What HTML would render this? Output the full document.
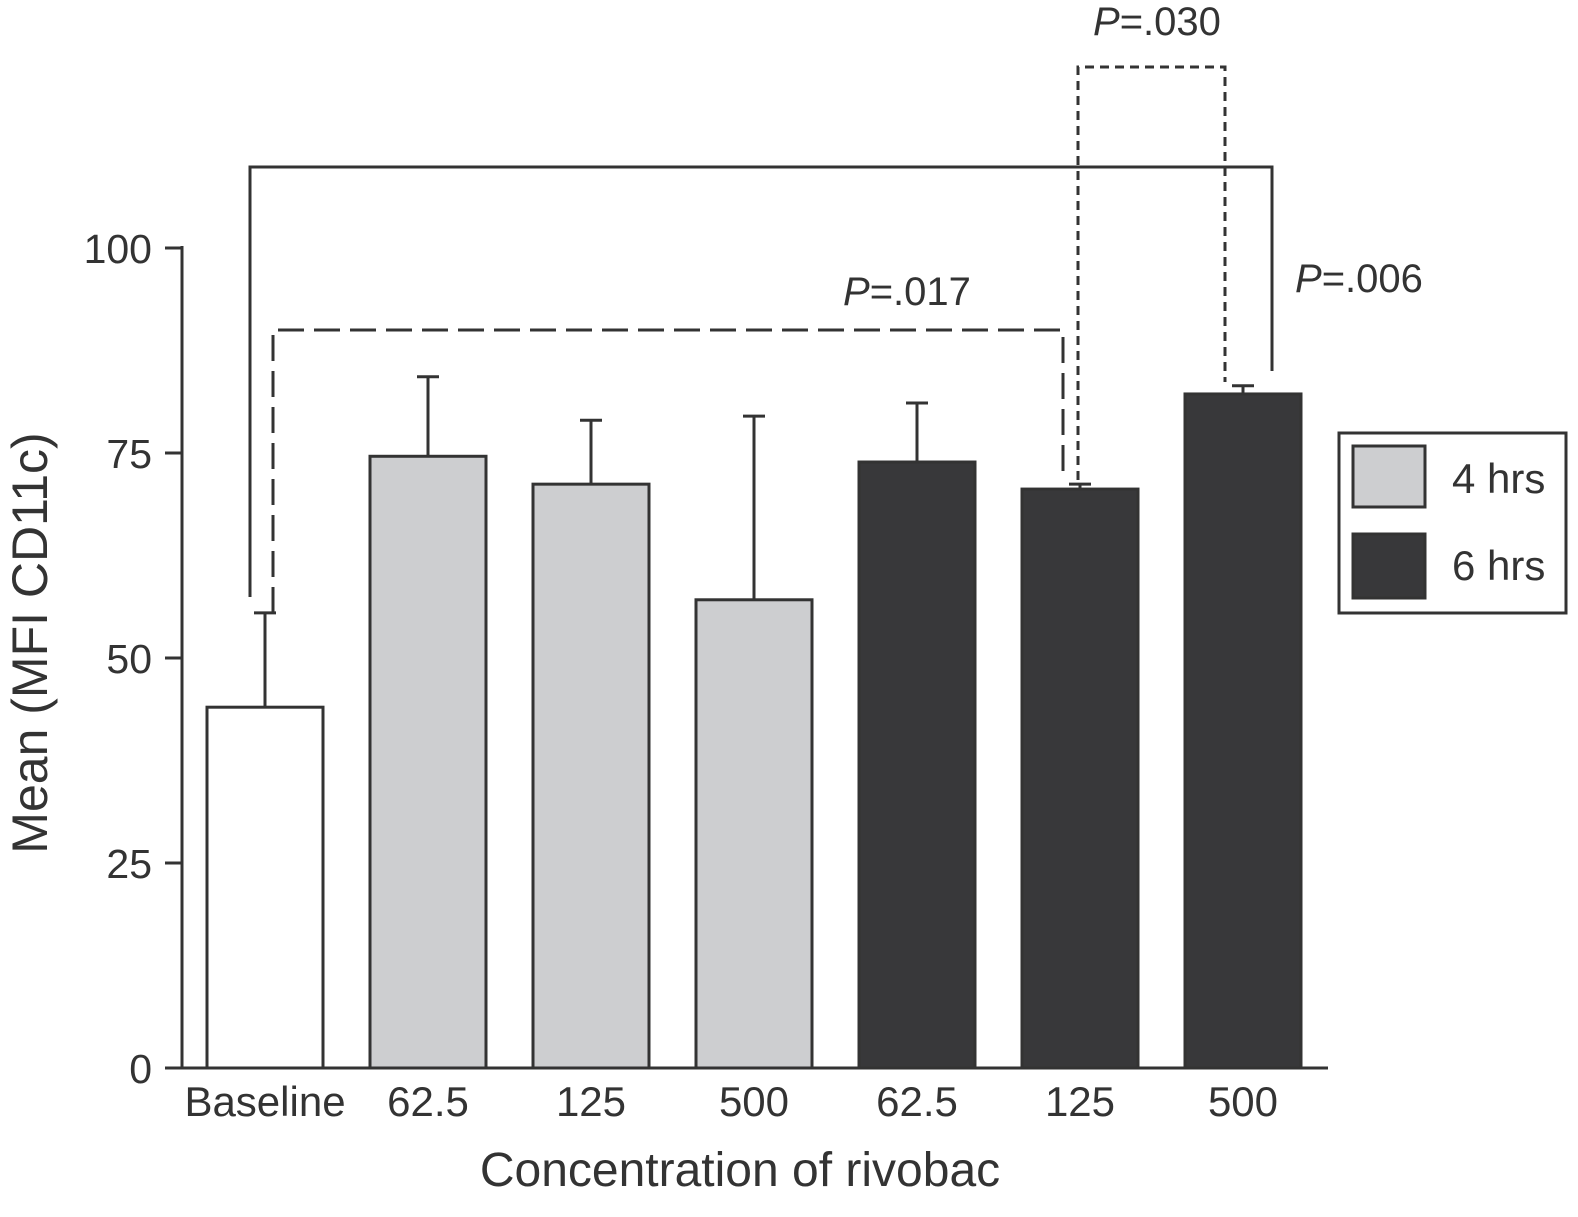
<!DOCTYPE html>
<html><head><meta charset="utf-8"><style>
html,body{margin:0;padding:0;background:#fff;}
svg{display:block;font-family:"Liberation Sans",Arial,sans-serif;}
</style></head><body>
<svg id="chart" width="1578" height="1217" viewBox="0 0 1578 1217" xmlns="http://www.w3.org/2000/svg">
<g id="axes"></g>
<g id="bars"></g>
<g id="brackets"></g>
<text x="740" y="1186" font-size="48" text-anchor="middle" fill="#333">Concentration of rivobac</text>
<text transform="translate(47,643) rotate(-90)" font-size="50" text-anchor="middle" fill="#333">Mean (MFI CD11c)</text>
<g>
<rect x="1339" y="433" width="227" height="180" fill="#fff" stroke="#333" stroke-width="3"/>
<rect x="1353" y="446" width="72" height="61" fill="#cdced0" stroke="#333" stroke-width="3"/>
<text x="1452" y="493" font-size="42" fill="#333">4 hrs</text>
<rect x="1353" y="534" width="72" height="64" fill="#38383a" stroke="#333" stroke-width="3"/>
<text x="1452" y="580" font-size="42" fill="#333">6 hrs</text>
</g>
</svg>
<script>
const categories = ["Baseline","62.5","125","500","62.5","125","500"];
const groups = ["baseline","4h","4h","4h","6h","6h","6h"];
const means = [44.0, 74.6, 71.2, 57.1, 73.9, 70.6, 82.2];
const errTops = [55.5, 84.3, 79.0, 79.5, 81.1, 71.2, 83.2];
const yTicks = [0, 25, 50, 75, 100];

const NS = "http://www.w3.org/2000/svg";
const y0 = 1068, pxPer = 8.2;
const yS = v => y0 - v * pxPer;
const xC = i => 265 + i * 163;
const barW = 116;
const fills = {baseline:"#ffffff","4h":"#cdced0","6h":"#38383a"};
function mk(tag, attrs, parent){const e=document.createElementNS(NS,tag);for(const k in attrs)e.setAttribute(k,attrs[k]);parent.appendChild(e);return e;}

const axes = document.getElementById("axes");
let l = mk("line",{x1:182,y1:246,x2:182,y2:1069,stroke:"#333","stroke-width":3},axes);


l = mk("line",{x1:181,y1:1068,x2:1328,y2:1068,stroke:"#333","stroke-width":3},axes);


yTicks.forEach(t=>{
  const tk = mk("line",{x1:165,y1:yS(t),x2:182,y2:yS(t),stroke:"#333","stroke-width":3},axes);
  
  
  const tx = mk("text",{x:152,y:yS(t)+15,"font-size":41,"text-anchor":"end",fill:"#333"},axes);
  tx.textContent = t;
  
  
});

const bars = document.getElementById("bars");
categories.forEach((c,i)=>{
  const cx = xC(i);
  const eb = mk("g",{},bars);
  
  
  mk("line",{x1:cx,y1:yS(means[i]),x2:cx,y2:yS(errTops[i]),stroke:"#333","stroke-width":3},eb);
  mk("line",{x1:cx-11,y1:yS(errTops[i]),x2:cx+11,y2:yS(errTops[i]),stroke:"#333","stroke-width":3},eb);
  const r = mk("rect",{x:cx-barW/2,y:yS(means[i]),width:barW,height:y0-yS(means[i]),fill:fills[groups[i]],stroke:"#333","stroke-width":3},bars);
  
  
  const tx = mk("text",{x:cx,y:1116,"font-size":42,"text-anchor":"middle",fill:"#333"},bars);
  tx.textContent = c;
  
  
});

const br = document.getElementById("brackets");
const b1 = mk("polyline",{points:"250,597 250,167 1272,167 1272,371",fill:"none",stroke:"#333","stroke-width":3},br);


const b2 = mk("polyline",{points:"273,613 273,330 1063,330 1063,480",fill:"none",stroke:"#333","stroke-width":3,"stroke-dasharray":"26,10"},br);


const b3 = mk("polyline",{points:"1078,480 1078,67 1225,67 1225,382",fill:"none",stroke:"#333","stroke-width":3,"stroke-dasharray":"9,6"},br);


[["P=.006",1295,292,"p-value-006"],["P=.017",843,305,"p-value-017"],["P=.030",1093,35,"p-value-030"]].forEach(a=>{
  const t = mk("text",{x:a[1],y:a[2],"font-size":40,fill:"#333"},br);
  t.innerHTML = '<tspan font-style="italic">P</tspan>'+a[0].slice(1);
  
  
});
</script>
</body></html>
